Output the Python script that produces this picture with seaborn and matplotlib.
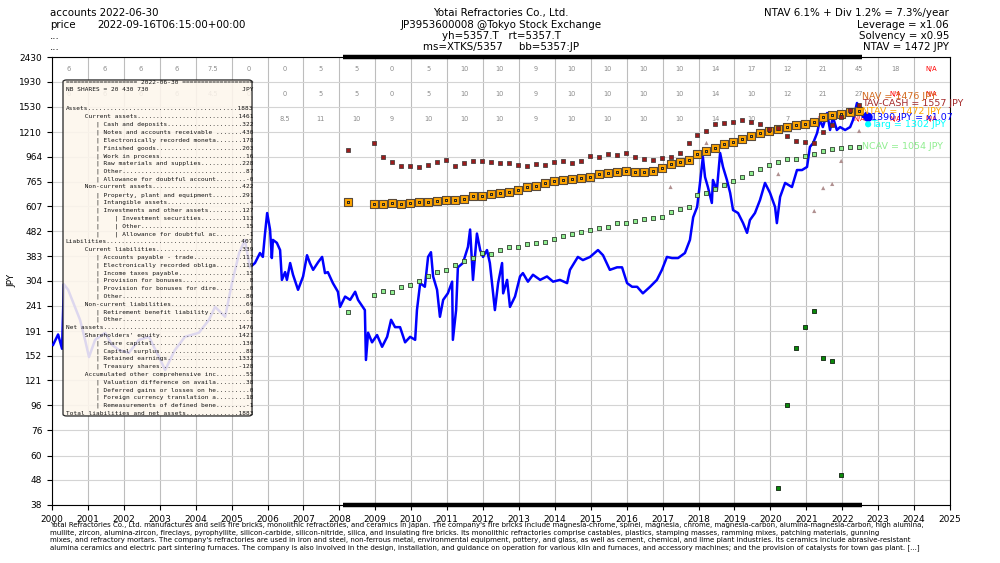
import matplotlib.pyplot as plt
from matplotlib.patches import FancyBboxPatch
from matplotlib.ticker import NullLocator
import seaborn as sns

# ---- price (JPY) ----
price_year = [2000.03, 2000.17, 2000.28, 2000.33, 2000.45, 2000.56, 2000.67, 2000.78, 2000.92, 2001.03,
              2001.20, 2001.48, 2001.67, 2001.87, 2002.14, 2002.42, 2002.70, 2002.98, 2003.15, 2003.42,
              2003.70, 2004.09, 2004.37, 2004.54, 2004.82, 2005.01, 2005.21, 2005.37, 2005.51, 2005.65,
              2005.79, 2005.87, 2005.93, 2005.99, 2006.07, 2006.12, 2006.15, 2006.26, 2006.35, 2006.40,
              2006.49, 2006.54, 2006.63, 2006.71, 2006.85, 2006.99, 2007.10, 2007.18, 2007.27, 2007.41,
              2007.52, 2007.60, 2007.68, 2007.82, 2007.96, 2008.02, 2008.16, 2008.30, 2008.44, 2008.52,
              2008.71, 2008.74, 2008.80, 2008.91, 2009.05, 2009.19, 2009.33, 2009.44, 2009.55, 2009.69,
              2009.83, 2009.97, 2010.11, 2010.16, 2010.25, 2010.38, 2010.47, 2010.55, 2010.61, 2010.72,
              2010.80, 2010.89, 2011.02, 2011.14, 2011.16, 2011.25, 2011.30, 2011.44, 2011.58, 2011.64,
              2011.72, 2011.83, 2011.92, 2012.00, 2012.11, 2012.19, 2012.33, 2012.42, 2012.53, 2012.56,
              2012.67, 2012.75, 2012.89, 2013.03, 2013.11, 2013.25, 2013.39, 2013.59, 2013.78, 2013.95,
              2014.14, 2014.34, 2014.42, 2014.64, 2014.78, 2014.98, 2015.20, 2015.34, 2015.53, 2015.73,
              2015.87, 2016.01, 2016.15, 2016.29, 2016.45, 2016.65, 2016.84, 2016.98, 2017.12, 2017.26,
              2017.43, 2017.62, 2017.76, 2017.85, 2017.96, 2018.04, 2018.12, 2018.18, 2018.26, 2018.37,
              2018.40, 2018.51, 2018.60, 2018.68, 2018.79, 2018.88, 2018.96, 2019.10, 2019.24, 2019.35,
              2019.43, 2019.57, 2019.71, 2019.85, 2019.99, 2020.13, 2020.18, 2020.27, 2020.41, 2020.60,
              2020.74, 2020.88, 2021.02, 2021.10, 2021.19, 2021.30, 2021.38, 2021.46, 2021.58, 2021.66,
              2021.74, 2021.85, 2021.94, 2022.08, 2022.22, 2022.30, 2022.41, 2022.49, 2022.58, 2022.66,
              2022.72]
price_jpy = [168, 185, 162, 295, 280, 255, 232, 212, 176, 150,
             176, 188, 168, 160, 156, 176, 181, 150, 133, 160,
             181, 188, 212, 239, 218, 298, 394, 445, 345, 359,
             394, 380, 472, 571, 490, 376, 445, 433, 405, 307,
             330, 307, 359, 322, 280, 317, 386, 359, 337, 362,
             380, 327, 330, 298, 275, 239, 263, 255, 275, 255,
             232, 146, 188, 172, 184, 165, 181, 212, 198, 198,
             172, 181, 176, 232, 298, 288, 380, 397, 317, 280,
             218, 255, 271, 302, 176, 232, 345, 359, 417, 490,
             307, 472, 405, 380, 405, 359, 232, 298, 359, 271,
             307, 239, 263, 317, 327, 302, 322, 307, 317, 302,
             307, 298, 337, 380, 369, 380, 405, 386, 337, 345,
             345, 298, 288, 288, 271, 288, 307, 337, 380, 376,
             376, 394, 445, 549, 604, 755, 961, 798, 727, 627,
             776, 707, 997, 876, 776, 688, 587, 571, 520, 475,
             535, 571, 644, 755, 688, 604, 520, 663, 755, 727,
             851, 851, 876, 1054, 1094, 1200, 1354, 1268, 1445, 1234,
             1392, 1234, 1268, 1234, 1268, 1354, 1586, 1486, 1392, 1445,
             1390]

# ---- quarterly accounts ----
acc_year = [2008.25, 2008.97, 2009.22, 2009.47, 2009.72, 2009.97, 2010.22, 2010.47, 2010.72, 2010.97,
            2011.22, 2011.47, 2011.72, 2011.97, 2012.22, 2012.47, 2012.72, 2012.97, 2013.22, 2013.47,
            2013.72, 2013.97, 2014.22, 2014.47, 2014.72, 2014.97, 2015.22, 2015.47, 2015.72, 2015.97,
            2016.22, 2016.47, 2016.72, 2016.97, 2017.22, 2017.47, 2017.72, 2017.97, 2018.22, 2018.47,
            2018.72, 2018.97, 2019.22, 2019.47, 2019.72, 2019.97, 2020.22, 2020.47, 2020.72, 2020.97,
            2021.22, 2021.47, 2021.72, 2021.97, 2022.22, 2022.47]
tav_cash = [1025, 1094, 961, 917, 883, 883, 876, 892, 917, 934,
            883, 908, 926, 926, 917, 908, 908, 892, 883, 900,
            892, 917, 926, 908, 926, 970, 961, 988, 979, 997,
            961, 943, 934, 952, 961, 997, 1094, 1178, 1223, 1305,
            1317, 1329, 1354, 1329, 1305, 1246, 1257, 1167, 1114, 1104,
            1094, 1211, 1290, 1390, 1480, 1557]
nav = [633, 621, 621, 627, 621, 627, 633, 633, 639, 644,
       644, 650, 669, 669, 682, 688, 694, 707, 727, 734,
       755, 769, 776, 783, 790, 798, 820, 828, 836, 843,
       836, 836, 843, 868, 900, 917, 934, 988, 1016, 1044,
       1084, 1104, 1135, 1167, 1200, 1223, 1246, 1268, 1293, 1305,
       1329, 1392, 1419, 1432, 1460, 1476]
ncav = [228, 267, 277, 274, 287, 293, 304, 318, 330, 337,
        353, 366, 376, 394, 391, 405, 417, 417, 428, 433,
        436, 449, 461, 470, 479, 488, 497, 502, 520, 520,
        530, 540, 545, 550, 576, 593, 604, 675, 688, 714,
        741, 769, 798, 828, 860, 892, 917, 943, 943, 970,
        988, 1016, 1034, 1044, 1054, 1054]

cash_year = [2020.22, 2020.47, 2020.72, 2020.97, 2021.22, 2021.47, 2021.72, 2021.97]
net_cash = [44.5, 96, 163, 198, 230, 149, 145, 50]

tri_year = [2017.22, 2018.22, 2020.22, 2021.22, 2021.47, 2021.72, 2021.97, 2022.47]
tri_val = [727, 1094, 820, 582, 720, 748, 926, 1223]

last_price_year = 2022.72
last_price = 1390
target = 1302

# ---- dividend table ----
div_years = list(range(2000, 2025))
div_row1 = ['6', '6', '6', '6', '7.5', '0', '0', '5', '5', '0', '5', '10', '10', '9', '10', '10', '10',
            '10', '14', '17', '12', '21', '45', '18', 'N/A']
div_row2 = ['6', '6', '6', '6', '4.5', '0', '0', '5', '5', '0', '5', '10', '10', '9', '10', '10', '10',
            '10', '14', '10', '12', '21', '27', 'N/A', 'N/A']
div_row3 = ['', '', '', '', '', '', '8.5', '11', '10', '9', '10', '10', '10', '9', '10', '10', '10',
            '10', '14', '10', '7', 'N/A', 'N/A', 'N/A', 'N/A']
row_levels = [2166, 1718, 1361]

yticks = [38, 48, 60, 76, 96, 121, 152, 191, 241, 304, 383, 482, 607, 765, 964, 1210, 1530, 1930, 2430]
years = list(range(2000, 2026))

# ---- balance sheet (2022-06-30, JPY millions) ----
bs_rows = [
    (0, "Assets", "1883"),
    (1, "Current assets", "1461"),
    (2, "Cash and deposits", "322"),
    (2, "Notes and accounts receivable ", "430"),
    (2, "Electronically recorded moneta", "178"),
    (2, "Finished goods", "203"),
    (2, "Work in process", "16"),
    (2, "Raw materials and supplies", "228"),
    (2, "Other", "87"),
    (2, "Allowance for doubtful account", "-0"),
    (1, "Non-current assets", "422"),
    (2, "Property, plant and equipment", "291"),
    (2, "Intangible assets", "4"),
    (2, "Investments and other assets", "127"),
    (3, "Investment securities", "113"),
    (3, "Other", "15"),
    (3, "Allowance for doubtful ac", "-1"),
    (0, "Liabilities", "407"),
    (1, "Current liabilities", "339"),
    (2, "Accounts payable - trade", "117"),
    (2, "Electronically recorded obliga", "119"),
    (2, "Income taxes payable", "15"),
    (2, "Provision for bonuses", "8"),
    (2, "Provision for bonuses for dire", "0"),
    (2, "Other", "80"),
    (1, "Non-current liabilities", "69"),
    (2, "Retirement benefit liability", "68"),
    (2, "Other", "1"),
    (0, "Net assets", "1476"),
    (1, "Shareholders' equity", "1421"),
    (2, "Share capital", "130"),
    (2, "Capital surplus", "88"),
    (2, "Retained earnings", "1332"),
    (2, "Treasury shares", "-128"),
    (1, "Accumulated other comprehensive inc", "55"),
    (2, "Valuation difference on availa", "38"),
    (2, "Deferred gains or losses on he", "0"),
    (2, "Foreign currency translation a", "18"),
    (2, "Remeasurements of defined bene", "-1"),
    (0, "Total liabilities and net assets", "1883"),
]

description = (
    "Yotai Refractories Co., Ltd. manufactures and sells fire bricks, monolithic refractories, and ceramics in Japan. "
    "The company's fire bricks include magnesia-chrome, spinel, magnesia, chrome, magnesia-carbon, alumina-magnesia-carbon, high alumina,\n"
    "mullite, zircon, alumina-zircon, fireclays, pyrophyllite, silicon-carbide, silicon-nitride, silica, and insulating fire bricks. "
    "Its monolithic refractories comprise castables, plastics, stamping masses, ramming mixes, patching materials, gunning\n"
    "mixes, and refractory mortars. The company's refractories are used in iron and steel, non-ferrous metal, environmental equipment, "
    "pottery, and glass, as well as cement, chemical, and lime plant industries. Its ceramics include abrasive-resistant\n"
    "alumina ceramics and electric part sintering furnaces. The company is also involved in the design, installation, and guidance on "
    "operation for various kiln and furnaces, and accessory machines; and the provision of catalysts for town gas plant. [...]"
)

fig = plt.figure(figsize=(10, 5.63), dpi=100)
ax = fig.add_axes([0.052, 58 / 563, 0.898, 448 / 563])

ax.set_yscale('log')
ax.set_xlim(2000, 2025)
ax.set_ylim(38, 2430)
ax.set_yticks(yticks)
ax.set_yticklabels([str(v) for v in yticks])
ax.yaxis.set_minor_locator(NullLocator())
ax.set_xticks(years)
ax.set_xticklabels([str(y) for y in years])
ax.tick_params(labelsize=6.5, length=3.5, width=0.8)
ax.grid(True, axis='x', color='#bdbdbd', lw=0.8)
ax.grid(True, axis='y', color='#d4d4d4', lw=0.8)
ax.set_axisbelow(True)

# dividend table rows
for level, row in zip(row_levels, [div_row1, div_row2, div_row3]):
    for yr, txt in zip(div_years, row):
        ax.text(yr + 0.47, level, txt, ha='center', va='center', fontsize=4.8,
                color='red' if txt == 'N/A' else '#8c8c8c', zorder=2)

# price
sns.lineplot(x=price_year, y=price_jpy, ax=ax, color='blue', lw=1.8,
             estimator=None, sort=False, zorder=3)

# accounts markers
sns.scatterplot(x=acc_year, y=nav, ax=ax, marker='s', s=26, color='orange',
                edgecolor='#5a4a3a', linewidth=0.8, zorder=4)
sns.scatterplot(x=acc_year, y=nav, ax=ax, marker='s', s=4, color='orange',
                edgecolor='#222222', linewidth=0.7, zorder=4)
sns.scatterplot(x=acc_year, y=tav_cash, ax=ax, marker='s', s=8, color='#9b1c1c',
                edgecolor='#333333', linewidth=0.5, zorder=4)
sns.scatterplot(x=acc_year, y=ncav, ax=ax, marker='s', s=8, color='#90ee90',
                edgecolor='#2f3f2f', linewidth=0.6, zorder=4)
sns.scatterplot(x=cash_year, y=net_cash, ax=ax, marker='s', s=10, color='#0a8a0a',
                edgecolor='#112211', linewidth=0.6, zorder=4)
sns.scatterplot(x=tri_year, y=tri_val, ax=ax, marker='^', s=9, color='#b09090',
                edgecolor='none', zorder=4)
sns.scatterplot(x=[last_price_year], y=[last_price], ax=ax, s=45, color='blue',
                edgecolor='none', zorder=5)
sns.scatterplot(x=[last_price_year], y=[target], ax=ax, s=20, color='cyan',
                edgecolor='none', zorder=5)

# accounts span bars
span = [2008.1, 2022.55]
ax.plot(span, [2430, 2430], color='black', lw=3.2, clip_on=False, zorder=6, solid_capstyle='butt')
ax.plot(span, [38, 38], color='black', lw=3.2, clip_on=False, zorder=6, solid_capstyle='butt')

# right-hand labels
lab = dict(fontsize=6.8, va='center', ha='left', annotation_clip=False, zorder=6,
           textcoords='offset points')
ax.annotate('NAV = 1476 JPY', xy=(2022.55, 1476), xytext=(0, 10), color='#d2691e', **lab)
ax.annotate('TAV-CASH = 1557 JPY', xy=(2022.55, 1557), xytext=(0, 1), color='#a52a2a', **lab)
ax.annotate('NTAV = 1472 JPY', xy=(2022.55, 1472), xytext=(0, 0), color='orange', **lab)
ax.annotate('1390 JPY = x1.07', xy=(2022.8, 1390), xytext=(0, 0), color='blue', **lab)
ax.annotate('Targ = 1302 JPY', xy=(2022.8, 1302), xytext=(0, 0), color='cyan', **lab)
ax.annotate('NCAV = 1054 JPY', xy=(2022.55, 1054), xytext=(0, 0), color='#90ee90', **lab)

# balance sheet box
box = FancyBboxPatch((0.01225, 0.1987), 0.2105, 0.75, boxstyle='round,pad=0,rounding_size=0.004',
                     transform=ax.transAxes, facecolor=(0.992, 0.965, 0.925, 0.88),
                     edgecolor='#222222', lw=0.9, zorder=7)
ax.add_patch(box)

W = 50
indents = ["", "     ", "        | ", "        |    | "]
bs_lines = [(' 2022-06-30 '.center(W, '='), 82)]
nb = "NB SHARES = 20 430 730"
bs_lines.append((nb + " " * (W - len(nb) - 3) + "JPY", 89.5))
for i, (lvl, label, val) in enumerate(bs_rows):
    head = indents[lvl] + label
    bs_lines.append((head + '.' * (W - len(head) - len(val)) + val, 109 + 7.8 * i))
for txt, py in bs_lines:
    ax.text(0.0153, 1 - (py - 57) / 448, txt, transform=ax.transAxes, family='DejaVu Sans Mono',
            fontsize=4.4, va='center', ha='left', color='#111111', zorder=8)

# headers
hs = 7.4
rows_y = [1 - 13 / 563, 1 - 24.5 / 563, 1 - 36 / 563, 1 - 47.5 / 563]
fig.text(0.05, rows_y[0], 'accounts 2022-06-30', fontsize=hs, va='center')
fig.text(0.05, rows_y[1], 'price', fontsize=hs, va='center')
fig.text(0.097, rows_y[1], '2022-09-16T06:15:00+00:00', fontsize=hs, va='center')
fig.text(0.05, rows_y[2], '...', fontsize=hs, va='center')
fig.text(0.05, rows_y[3], '...', fontsize=hs, va='center')

center_lines = ['Yotai Refractories Co., Ltd.', 'JP3953600008 @Tokyo Stock Exchange',
                'yh=5357.T   rt=5357.T', 'ms=XTKS/5357     bb=5357:JP']
for y, t in zip(rows_y, center_lines):
    fig.text(0.501, y, t, fontsize=hs, va='center', ha='center')

right_lines = ['NTAV 6.1% + Div 1.2% = 7.3%/year', 'Leverage = x1.06', 'Solvency = x0.95', 'NTAV = 1472 JPY']
for y, t in zip(rows_y, right_lines):
    fig.text(0.949, y, t, fontsize=hs, va='center', ha='right')

fig.text(0.012, 1 - 280 / 563, 'JPY', rotation=90, fontsize=6.5, va='center', ha='center')
fig.text(0.05, 1 - 522 / 563, description, fontsize=5.0, va='top', ha='left', linespacing=1.3)

fig.savefig('out.png', dpi=100)
